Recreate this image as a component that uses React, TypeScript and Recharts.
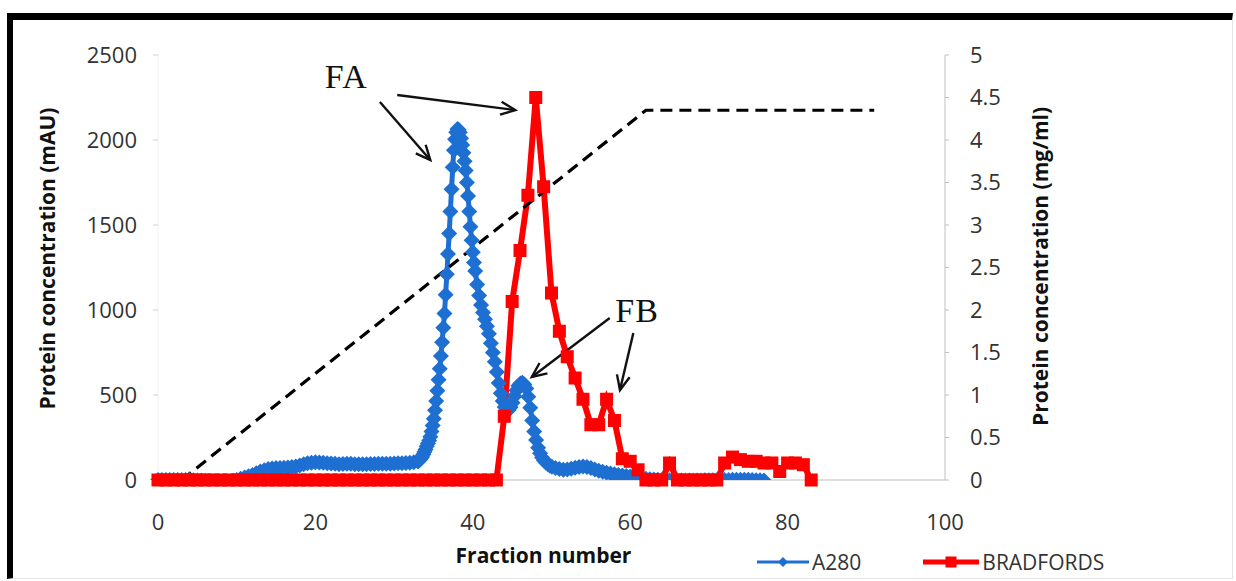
import { LineChart, Line, XAxis, YAxis, ReferenceLine, ReferenceDot } from 'recharts';

const X_TICKS = [0, 20, 40, 60, 80, 100];
const LEFT_TICKS = [0, 500, 1000, 1500, 2000, 2500];
const RIGHT_TICKS = [0, 0.5, 1, 1.5, 2, 2.5, 3, 3.5, 4, 4.5, 5];

// A280 trace: [fraction, mAU]
const A280_POINTS: [number, number][] = [
  [0, 0], [0.5, 0], [1, 0], [1.5, 0], [2, 0], [2.5, 0], [3, 0], [3.5, 0], [4, 0], [4.5, -2],
  [5, -3], [5.5, -4], [6, -5], [6.5, -7], [7, -8], [7.5, -10], [8, -12], [8.5, -12], [9, -10], [9.5, -6],
  [10, 0], [10.5, 8], [11, 15], [11.5, 22], [12, 30], [12.5, 40], [13, 50], [13.5, 58], [14, 64], [14.5, 68],
  [15, 70], [15.5, 71], [16, 72], [16.5, 73], [17, 76], [17.5, 80], [18, 86], [18.5, 92], [19, 98], [19.5, 102],
  [20, 104], [20.5, 103], [21, 101], [21.5, 99], [22, 97], [22.5, 95], [23, 93], [23.5, 94], [24, 96], [24.5, 95],
  [25, 93], [25.5, 92], [26, 92], [26.5, 93], [27, 94], [27.5, 94], [28, 95], [28.5, 95], [29, 96], [29.5, 96],
  [30, 97], [30.5, 98], [31, 99], [31.5, 100], [32, 102], [32.5, 105], [33, 110],
  [33.1, 112], [33.25, 118], [33.4, 126], [33.55, 136], [33.7, 150], [33.85, 165], [34, 180], [34.15, 198],
  [34.3, 215], [34.45, 232], [34.6, 255], [34.75, 285], [34.9, 320], [35.05, 360], [35.2, 410], [35.35, 465],
  [35.5, 525], [35.65, 590], [35.8, 655], [35.95, 730], [36.1, 810], [36.25, 895], [36.4, 980], [36.55, 1090],
  [36.7, 1210], [36.85, 1330], [37, 1450], [37.15, 1580], [37.3, 1710], [37.45, 1840], [37.6, 1940], [37.75, 2005],
  [37.9, 2045], [38.05, 2065], [38.2, 2060], [38.35, 2045], [38.5, 2010], [38.65, 1970], [38.8, 1925], [38.95, 1875],
  [39.1, 1820], [39.25, 1750], [39.4, 1670], [39.55, 1580], [39.7, 1490], [39.85, 1410], [40, 1340], [40.15, 1280],
  [40.3, 1230], [40.55, 1150], [40.8, 1085], [41.05, 1030], [41.3, 985], [41.55, 945], [41.8, 905], [42.05, 860],
  [42.3, 805], [42.55, 750], [42.8, 695], [43.05, 635], [43.3, 570], [43.55, 510], [43.8, 465], [44.05, 430],
  [44.3, 412], [44.55, 412], [44.8, 428], [45.05, 455], [45.3, 492], [45.55, 528], [45.8, 555], [46.05, 568],
  [46.3, 572], [46.55, 562], [46.8, 538], [47.05, 490], [47.3, 425], [47.55, 350], [47.8, 285], [48.05, 235],
  [48.3, 190], [48.55, 158], [48.8, 132], [49.05, 115], [49.3, 102], [49.55, 92], [49.8, 84], [50.05, 78],
  [50.5, 70], [51, 64], [51.5, 61], [52, 62], [52.5, 66], [53, 72], [53.5, 77], [54, 79], [54.5, 76], [55, 70],
  [55.5, 62], [56, 55], [56.5, 48], [57, 43], [57.5, 38], [58, 34], [58.5, 30], [59, 27], [59.5, 24], [60, 20],
  [60.5, 17], [61, 14], [61.5, 11], [62, 8], [62.5, 5], [63, 3], [63.5, 1], [64, 0], [64.5, -1], [65, -2],
  [65.5, -2], [66, -3], [66.5, -3], [67, -3], [67.5, -3], [68, -3], [68.5, -3], [69, -3], [69.5, -2], [70, -2],
  [70.5, -2], [71, -2], [71.5, -1], [72, 0], [72.5, 0], [73, 1], [73.5, 2], [74, 2], [74.5, 2], [75, 1],
  [75.5, 0], [76, -1], [76.5, -2], [77, -3],
];

// Bradford assay, one reading per fraction 0..83 (mg/ml)
const BRADFORD_VALUES = [
  0, 0, 0, 0, 0, 0, 0, 0, 0, 0,
  0, 0, 0, 0, 0, 0, 0, 0, 0, 0,
  0, 0, 0, 0, 0, 0, 0, 0, 0, 0,
  0, 0, 0, 0, 0, 0, 0, 0, 0, 0,
  0, 0, 0, 0, 0.75, 2.1, 2.7, 3.35, 4.5, 3.45,
  2.2, 1.75, 1.45, 1.2, 0.95, 0.65, 0.65, 0.95, 0.7, 0.25,
  0.22, 0.12, 0, 0, 0, 0.2, 0, 0, 0, 0,
  0, 0, 0.2, 0.27, 0.24, 0.22, 0.22, 0.2, 0.2, 0.1,
  0.2, 0.2, 0.18, 0,
];

// salt gradient (dashed), on the right axis
const GRADIENT_POINTS: [number, number][] = [[3, 0], [62, 4.35], [91, 4.35]];

// annotations, in fraction / mAU units
const FA_LABEL = { x: 21.2, y: 2306 };
const FB_LABEL = { x: 58.1, y: 929 };
const ARROWS = [
  { from: [28.2, 2224], to: [34.6, 1882] },
  { from: [30.4, 2265], to: [45.4, 2176] },
  { from: [57.4, 953], to: [47.5, 606] },
  { from: [60.4, 865], to: [58.7, 529] },
];

const BLUE = '#1e6fd2';
const RED = '#ff0000';
const AXIS = '#bfbfbf';
const FONT = '"Open Sans", "Liberation Sans", sans-serif';
const SERIF = '"Liberation Serif", "DejaVu Serif", serif';

const a280Data = A280_POINTS.map(([x, v]) => ({ x, a280: v }));
const bradfordData = BRADFORD_VALUES.map((v, i) => ({ x: i, bradford: v }));
const gradientData = GRADIENT_POINTS.map(([x, v]) => ({ x, gradient: v }));

const Diamond = (props: any) => {
  const { cx, cy, index } = props;
  if (cx == null || cy == null) return <g key={`d${index}`} />;
  const r = 8;
  return (
    <path
      key={`d${index}`}
      d={`M${cx},${cy - r}L${cx + r},${cy}L${cx},${cy + r}L${cx - r},${cy}Z`}
      fill={BLUE}
    />
  );
};

const Square = (props: any) => {
  const { cx, cy, index } = props;
  if (cx == null || cy == null) return <g key={`s${index}`} />;
  const s = 13;
  return <rect key={`s${index}`} x={cx - s / 2} y={cy - s / 2} width={s} height={s} fill={RED} />;
};

const Arrow = (props: any) => {
  const { x1, y1, x2, y2 } = props;
  const ang = Math.atan2(y2 - y1, x2 - x1);
  const h = 16;
  const spread = 0.42;
  const ax = x2 - h * Math.cos(ang - spread);
  const ay = y2 - h * Math.sin(ang - spread);
  const bx = x2 - h * Math.cos(ang + spread);
  const by = y2 - h * Math.sin(ang + spread);
  return (
    <g stroke="#111" strokeWidth={2.4} fill="none">
      <line x1={x1} y1={y1} x2={x2} y2={y2} />
      <polyline points={`${ax},${ay} ${x2},${y2} ${bx},${by}`} />
    </g>
  );
};

const labelText = (text: string) => (p: any) => (
  <text x={p.cx} y={p.cy} fontFamily={SERIF} fontSize={34} fill="#111" letterSpacing={1}>
    {text}
  </text>
);

const tickStyle = { fontSize: 22, fill: '#333', fontFamily: FONT };

export default function App() {
  return (
    <div style={{ position: 'absolute', left: 0, top: 0, width: 1236, height: 581, background: '#fff' }}>
      <div
        style={{
          position: 'absolute',
          left: 7,
          top: 13,
          width: 1226,
          height: 566,
          boxSizing: 'border-box',
          borderTop: '7px solid #000',
          borderLeft: '6px solid #000',
          borderRight: '1px solid #e4e4e4',
          borderBottom: '1px solid #e4e4e4',
        }}
      />
      <div style={{ position: 'absolute', left: 0, top: 0 }}>
        <LineChart width={1236} height={581} margin={{ top: 55, right: 191, bottom: 1, left: 58 }}>
          <XAxis
            type="number"
            dataKey="x"
            domain={[0, 100]}
            ticks={X_TICKS}
            allowDuplicatedCategory={false}
            height={100}
            tick={tickStyle}
            tickSize={0}
            tickMargin={34}
            stroke={AXIS}
            label={{
              content: ({ viewBox }: any) => (
                <text
                  x={viewBox.x + viewBox.width / 2 - 8}
                  y={viewBox.y + 83}
                  textAnchor="middle"
                  fontFamily={FONT}
                  fontWeight={700}
                  fontSize={21}
                  fill="#111"
                >
                  Fraction number
                </text>
              ),
            }}
          />
          <YAxis
            yAxisId="left"
            domain={[0, 2500]}
            ticks={LEFT_TICKS}
            allowDataOverflow
            width={100}
            tick={tickStyle}
            tickSize={5}
            tickMargin={16}
            axisLine={{ stroke: '#eeeeee' }}
            tickLine={{ stroke: '#d0d0d0' }}
            label={{
              content: ({ viewBox }: any) => {
                const x = viewBox.x - 11;
                const y = viewBox.y + viewBox.height / 2 - 9;
                return (
                  <text
                    x={x}
                    y={y}
                    transform={`rotate(-90, ${x}, ${y})`}
                    textAnchor="middle"
                    dominantBaseline="central"
                    fontFamily={FONT}
                    fontWeight={700}
                    fontSize={21}
                    fill="#111"
                  >
                    Protein concentration (mAU)
                  </text>
                );
              },
            }}
          />
          <YAxis
            yAxisId="right"
            orientation="right"
            domain={[0, 5]}
            ticks={RIGHT_TICKS}
            width={100}
            tick={tickStyle}
            tickSize={4}
            tickMargin={21}
            stroke={AXIS}
            label={{
              content: ({ viewBox }: any) => {
                const x = viewBox.x + 95;
                const y = viewBox.y + viewBox.height / 2 - 1;
                return (
                  <text
                    x={x}
                    y={y}
                    transform={`rotate(-90, ${x}, ${y})`}
                    textAnchor="middle"
                    dominantBaseline="central"
                    fontFamily={FONT}
                    fontWeight={700}
                    fontSize={21}
                    fill="#111"
                  >
                    Protein concentration (mg/ml)
                  </text>
                );
              },
            }}
          />
          <Line
            yAxisId="left"
            data={a280Data}
            dataKey="a280"
            type="monotone"
            stroke={BLUE}
            strokeWidth={5}
            dot={Diamond}
            activeDot={false}
            isAnimationActive={false}
          />
          <Line
            yAxisId="right"
            data={bradfordData}
            dataKey="bradford"
            type="linear"
            stroke={RED}
            strokeWidth={6}
            dot={Square}
            activeDot={false}
            isAnimationActive={false}
          />
          <Line
            yAxisId="right"
            data={gradientData}
            dataKey="gradient"
            type="linear"
            stroke="#000"
            strokeWidth={3.2}
            strokeDasharray="12 7"
            dot={false}
            activeDot={false}
            isAnimationActive={false}
          />
          {ARROWS.map((a, i) => (
            <ReferenceLine
              key={i}
              yAxisId="left"
              segment={[
                { x: a.from[0], y: a.from[1] },
                { x: a.to[0], y: a.to[1] },
              ]}
              shape={Arrow}
            />
          ))}
          <ReferenceDot yAxisId="left" x={FA_LABEL.x} y={FA_LABEL.y} r={0} shape={labelText('FA')} />
          <ReferenceDot yAxisId="left" x={FB_LABEL.x} y={FB_LABEL.y} r={0} shape={labelText('FB')} />
        </LineChart>
      </div>
      <div
        style={{
          position: 'absolute',
          left: 757,
          top: 549,
          display: 'flex',
          alignItems: 'center',
          fontFamily: FONT,
          fontSize: 21,
          color: '#333',
          lineHeight: '26px',
        }}
      >
        <svg width={53} height={26}>
          <line x1={0} y1={13} x2={52} y2={13} stroke={BLUE} strokeWidth={3} />
          <path d="M26,8L31,13L26,18L21,13Z" fill={BLUE} />
        </svg>
        <span style={{ marginLeft: 2 }}>A280</span>
        <svg width={57} height={26} style={{ marginLeft: 62 }}>
          <line x1={0} y1={13} x2={56} y2={13} stroke={RED} strokeWidth={5} />
          <rect x={22.5} y={7.5} width={11} height={11} fill={RED} />
        </svg>
        <span style={{ marginLeft: 2 }}>BRADFORDS</span>
      </div>
    </div>
  );
}
